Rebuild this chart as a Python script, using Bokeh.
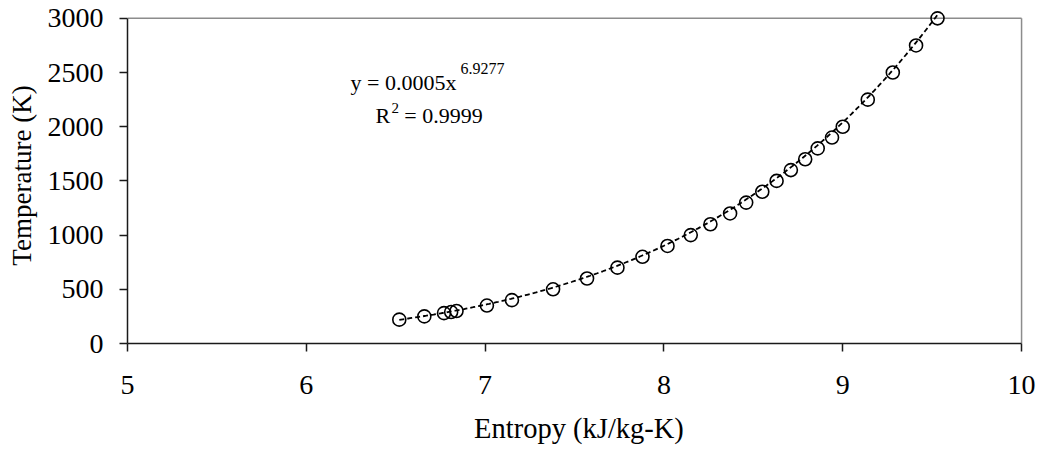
from bokeh.plotting import figure
from bokeh.models import FixedTicker, Label
from bokeh.embed import file_html
from bokeh.resources import INLINE
import numpy as np

# Entropy vs. temperature readings
entropy = [6.52, 6.66, 6.77, 6.81, 6.84, 7.01, 7.15, 7.38, 7.57, 7.74, 7.88, 8.02,
           8.15, 8.26, 8.37, 8.46, 8.55, 8.63, 8.71, 8.79, 8.86, 8.94, 9.00,
           9.14, 9.28, 9.41, 9.53]
temperature = [220, 250, 280, 290, 300, 350, 400, 500, 600, 700, 800, 900,
               1000, 1100, 1200, 1300, 1400, 1500, 1600, 1700, 1800, 1900, 2000,
               2250, 2500, 2750, 3000]

# Power-law trendline y = a * x^b
fit_a = 0.0005
fit_b = 6.9277
fit_r2 = 0.9999

x_ticks = [5, 6, 7, 8, 9, 10]
y_ticks = [0, 500, 1000, 1500, 2000, 2500, 3000]

FONT = "Liberation Serif"

p = figure(width=1041, height=450, output_backend="svg", toolbar_location=None,
           x_range=(5, 10.05), y_range=(0, 3100),
           min_border_left=127, min_border_right=11,
           min_border_top=7, min_border_bottom=107)
p.outline_line_color = None
p.xgrid.visible = False
p.ygrid.visible = False
p.background_fill_color = "white"
p.border_fill_color = "white"

# plot-area border on top and right
p.segment(x0=[5, 10], y0=[3000, 0], x1=[10, 10], y1=[3000, 3000],
          line_color="#8c8c8c", line_width=1.5)

# trendline across the data span
xs = np.linspace(min(entropy), max(entropy), 300)
ys = fit_a * xs ** fit_b
p.line(xs, ys, line_color="black", line_width=1.8, line_dash="5 3")

p.scatter(entropy, temperature, marker="circle", size=13, line_color="black",
          line_width=1.6, fill_color=None)

for ax in (p.xaxis[0], p.yaxis[0]):
    ax.axis_line_color = "#1a1a1a"
    ax.axis_line_width = 1.5
    ax.major_tick_line_color = "#1a1a1a"
    ax.major_tick_line_width = 1.5
    ax.major_tick_out = 8
    ax.major_tick_in = 0
    ax.minor_tick_line_color = None
    ax.major_label_text_font = FONT
    ax.major_label_text_font_size = "28px"
    ax.major_label_text_color = "black"
    ax.axis_label_text_font = FONT
    ax.axis_label_text_font_style = "normal"
    ax.axis_label_text_color = "black"

p.xaxis.axis_label_text_font_size = "28.5px"
p.yaxis.axis_label_text_font_size = "27px"
p.xaxis.bounds = (5, 10)
p.yaxis.bounds = (0, 3000)
p.xaxis.ticker = FixedTicker(ticks=x_ticks)
p.yaxis.ticker = FixedTicker(ticks=y_ticks)
p.xaxis.axis_label = "Entropy (kJ/kg-K)"
p.yaxis.axis_label = "Temperature (K)"
p.xaxis.major_label_standoff = 24
p.yaxis.major_label_standoff = 16
p.xaxis.axis_label_standoff = 16
p.yaxis.axis_label_standoff = 8

# trendline equation
eq_font = "22px"
p.add_layout(Label(x=6.247, y=2408, text=f"y = {fit_a}x", text_font=FONT,
                   text_font_size=eq_font, text_baseline="alphabetic", text_color="black"))
p.add_layout(Label(x=6.862, y=2540, text=f"{fit_b}", text_font=FONT,
                   text_font_size="16px", text_baseline="alphabetic", text_color="black"))
p.add_layout(Label(x=6.387, y=2103, text="R", text_font=FONT,
                   text_font_size=eq_font, text_baseline="alphabetic", text_color="black"))
p.add_layout(Label(x=6.476, y=2177, text="2", text_font=FONT,
                   text_font_size="15px", text_baseline="alphabetic", text_color="black"))
p.add_layout(Label(x=6.548, y=2103, text=f"= {fit_r2}", text_font=FONT,
                   text_font_size=eq_font, text_baseline="alphabetic", text_color="black"))

open("out.html", "w").write(file_html(p, INLINE))
